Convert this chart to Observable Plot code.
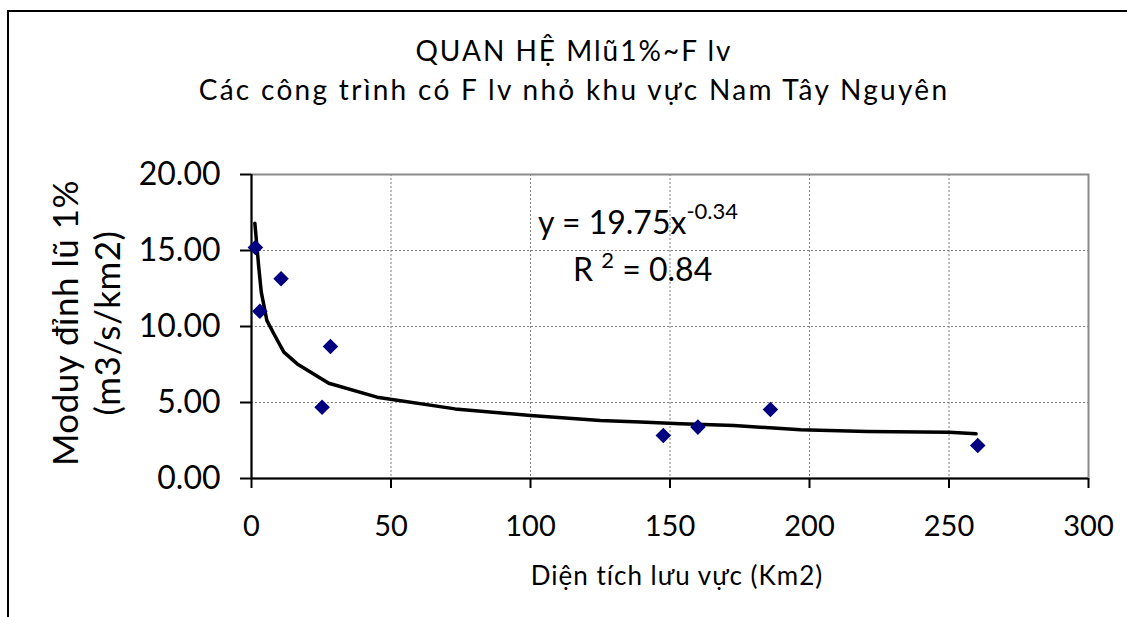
<!DOCTYPE html>
<html>
<head>
<meta charset="utf-8">
<script src="https://cdn.jsdelivr.net/npm/d3@7"></script>
<script src="https://cdn.jsdelivr.net/npm/@observablehq/plot@0.6"></script>
<style>
  html, body { margin: 0; padding: 0; background: #fff; }
  body { width: 1127px; height: 617px; overflow: hidden; position: relative; font-family: Lato, "Open Sans", sans-serif; color: #000; }
  .abs { position: absolute; white-space: nowrap; line-height: 1; }
  .ctr { transform: translateX(-50%); }
</style>
</head>
<body>
<div class="abs" style="left:7px; top:10px; width:1300px; height:800px; border:2px solid #000;"></div>
<div id="chart" class="abs" style="left:0; top:0;"></div>
<div class="abs ctr" id="title" style="left:574px; top:36px; font-size:28px; letter-spacing:2px;"></div>
<div class="abs ctr" id="subtitle" style="left:574px; top:75px; font-size:28px; letter-spacing:2.3px;"></div>
<div class="abs ctr" id="xlabel" style="left:677px; top:562px; font-size:26px; letter-spacing:1px;"></div>
<div class="abs" id="ylabel" style="left:85px; top:323px; font-size:35px; line-height:42px; letter-spacing:0.5px; text-align:center; transform:translate(-50%,-50%) rotate(-90deg);"></div>
<div class="abs" id="eq" style="left:538px; top:206px; font-size:32px;"></div>
<div class="abs" id="r2" style="left:573px; top:253px; font-size:32px;"></div>
<script>
// ---- data ----
const titleText = "QUAN HỆ  Mlũ1%~F lv";
const subtitleText = "Các công trình có F lv nhỏ khu vực Nam Tây Nguyên";
const xTitle = "Diện tích lưu vực (Km2)";
const yTitleLines = ["Moduy đỉnh lũ 1%", "(m3/s/km2)"];
const equationMain = "y = 19.75x";
const equationExp = "-0.34";
const r2Value = "0.84";

const areaKm2 = [1.4, 3.0, 10.6, 25.3, 28.3, 147.6, 160, 186, 260.3];
const moduly  = [15.2, 11.0, 13.14, 4.69, 8.68, 2.83, 3.38, 4.54, 2.17];

const trendX = [1.2, 2.6, 3.5, 5.5, 8, 11.6, 16.4, 27.7, 45, 73, 100, 125, 139.4, 153.8, 172.9, 196.8, 220.7, 250, 259.7];
const trendY = [16.8, 13.9, 12.26, 10.4, 9.52, 8.31, 7.54, 6.27, 5.35, 4.58, 4.14, 3.82, 3.71, 3.6, 3.49, 3.2, 3.09, 3.05, 2.94];

const xTicks = [0, 50, 100, 150, 200, 250, 300];
const yTicks = [0, 5, 10, 15, 20];

// ---- build ----
const points = areaKm2.map((x, i) => ({x, y: moduly[i]}));
const trend = trendX.map((x, i) => ({x, y: trendY[i]}));

const chart = Plot.plot({
  width: 1127,
  height: 617,
  marginLeft: 251,
  marginRight: 39,
  marginTop: 174,
  marginBottom: 139,
  style: {fontFamily: "Lato, 'Open Sans', sans-serif", fontSize: "29px", color: "#000", background: "transparent", overflow: "visible"},
  x: {domain: [0, 300]},
  y: {domain: [0, 20]},
  marks: [
    Plot.gridX(xTicks.filter(d => d > 0), {stroke: "#808080", strokeOpacity: 1, strokeDasharray: "2,2"}),
    Plot.gridY(yTicks.filter(d => d > 0), {stroke: "#808080", strokeOpacity: 1, strokeDasharray: "2,2"}),
    Plot.frame({stroke: "#8a8a8a", strokeWidth: 2}),
    Plot.ruleX([0], {stroke: "#000", strokeWidth: 2}),
    Plot.ruleY([0], {stroke: "#000", strokeWidth: 2}),
    Plot.axisX(xTicks, {tickSize: 10, tickPadding: 27, strokeWidth: 2, label: null}),
    Plot.axisY(yTicks, {tickSize: 11, tickPadding: 20, strokeWidth: 2, fontSize: 32, tickFormat: d3.format(".2f"), label: null}),
    Plot.line(trend, {x: "x", y: "y", stroke: "#000", strokeWidth: 3.5}),
    Plot.dot(points, {x: "x", y: "y", symbol: "diamond2", r: 7, fill: "#000080", stroke: "none"})
  ]
});
document.getElementById("chart").appendChild(chart);

document.getElementById("title").textContent = titleText;
document.getElementById("subtitle").textContent = subtitleText;
document.getElementById("xlabel").textContent = xTitle;
document.getElementById("ylabel").innerHTML = yTitleLines.join("<br>");
document.getElementById("eq").innerHTML = equationMain +
  '<span style="font-size:22px; position:relative; top:-15px;">' + equationExp + '</span>';
document.getElementById("r2").innerHTML = 'R <span style="font-size:22px; position:relative; top:-13px;">2</span> = ' + r2Value;
</script>
</body>
</html>
